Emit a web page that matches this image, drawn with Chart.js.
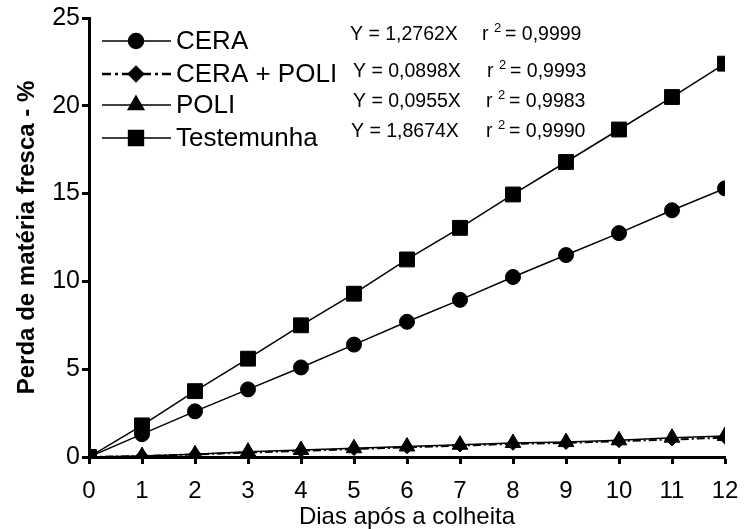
<!DOCTYPE html>
<html>
<head>
<meta charset="utf-8">
<script src="https://cdn.jsdelivr.net/npm/chart.js@4.4.0/dist/chart.umd.min.js"></script>
<style>
  html, body { margin: 0; padding: 0; background: #fff; }
  #wrap { width: 754px; height: 529px; position: relative; }
</style>
</head>
<body>
<div id="wrap"><canvas id="chart"></canvas></div>
<script>
// dias após a colheita
const dias = [0, 1, 2, 3, 4, 5, 6, 7, 8, 9, 10, 11, 12];

// perda de matéria fresca (%)
const cera = [0, 1.3, 2.6, 3.85, 5.1, 6.4, 7.7, 8.95, 10.25, 11.5, 12.75, 14.05, 15.3];
const ceraPoli = [0, 0.05, 0.15, 0.25, 0.35, 0.45, 0.55, 0.65, 0.75, 0.8, 0.9, 1.0, 1.1];
const poli = [0, 0.05, 0.15, 0.3, 0.4, 0.5, 0.6, 0.7, 0.8, 0.85, 0.95, 1.1, 1.2];
const testemunha = [0, 1.8, 3.75, 5.6, 7.5, 9.3, 11.25, 13.05, 14.95, 16.8, 18.65, 20.5, 22.4];

const nomes = ['CERA', 'CERA + POLI', 'POLI', 'Testemunha'];
const equacoes = ['Y = 1,2762X', 'Y = 0,0898X', 'Y = 0,0955X', 'Y = 1,8674X'];
const r2 = ['= 0,9999', '= 0,9993', '= 0,9983', '= 0,9990'];

const yTicks = [0, 5, 10, 15, 20, 25];

const FONT = '"Liberation Sans", Arial, sans-serif';

function pts(arr) {
    return dias.map((d, i) => ({ x: d, y: arr[i] }));
}

const base = {
    borderColor: '#000',
    backgroundColor: '#000',
    pointBackgroundColor: '#000',
    pointBorderColor: '#000',
    borderWidth: 1.5,
    pointBorderWidth: 1,
    tension: 0,
    fill: false
};

const datasets = [
    Object.assign({}, base, { label: nomes[0], data: pts(cera), pointStyle: 'circle', pointRadius: 7.5 }),
    Object.assign({}, base, { label: nomes[1], data: pts(ceraPoli), pointStyle: 'rectRot', pointRadius: 6.5, borderWidth: 2, borderDash: [8, 3, 2, 3] }),
    Object.assign({}, base, { label: nomes[2], data: pts(poli), pointStyle: 'triangle', pointRadius: 9 }),
    Object.assign({}, base, { label: nomes[3], data: pts(testemunha), pointStyle: 'rect', pointRadius: 10.5 })
];

// legenda desenhada à mão (linha + marcador + equação)
const legendaPlugin = {
    id: 'legenda',
    afterDraw(chart) {
        const ctx = chart.ctx;
        const rows = [41, 74, 105, 138];
        const eqX = [350, 353, 353, 351];
        const r2X = [482, 487, 486, 486];
        const eqRowY = [35, 72, 102, 132];
        ctx.save();
        chart.data.datasets.forEach((ds, i) => {
            const y = rows[i];
            ctx.strokeStyle = '#000';
            ctx.lineWidth = ds.borderDash ? 2.5 : 1.5;
            ctx.setLineDash(ds.borderDash ? [9, 4, 3, 4] : []);
            ctx.beginPath();
            ctx.moveTo(102, y);
            ctx.lineTo(171, y);
            ctx.stroke();
            ctx.setLineDash([]);
            ctx.fillStyle = '#000';
            Chart.helpers.drawPoint(ctx, {
                pointStyle: ds.pointStyle,
                radius: ds.pointStyle === 'rectRot' ? 7 : ds.pointRadius,
                borderWidth: 1
            }, 136, y);
            ctx.font = '26px ' + FONT;
            ctx.textAlign = 'left';
            ctx.textBaseline = 'middle';
            ctx.fillText(ds.label, 176, y + 1);

            const ey = eqRowY[i];
            ctx.font = '19.5px ' + FONT;
            ctx.fillText(equacoes[i], eqX[i], ey);
            ctx.fillText('r', r2X[i], ey);
            ctx.font = '13px ' + FONT;
            ctx.fillText('2', r2X[i] + 12, ey - 7);
            ctx.font = '19.5px ' + FONT;
            ctx.fillText(r2[i], r2X[i] + 23, ey);
        });
        ctx.restore();
    }
};

new Chart(document.getElementById('chart'), {
    type: 'line',
    data: { datasets: datasets },
    options: {
        responsive: true,
        maintainAspectRatio: false,
        animation: false,
        layout: { padding: { top: 18, right: 29, left: 0, bottom: 0 } },
        plugins: {
            legend: { display: false },
            tooltip: { enabled: false }
        },
        scales: {
            x: {
                type: 'linear',
                min: 0,
                max: 12,
                ticks: {
                    stepSize: 1,
                    color: '#000',
                    font: { family: FONT, size: 24 },
                    padding: 13
                },
                grid: { drawOnChartArea: false, tickLength: 7, tickWidth: 3, tickColor: '#000' },
                border: { display: true, color: '#000', width: 3 },
                title: {
                    display: true,
                    text: 'Dias após a colheita',
                    color: '#000',
                    font: { family: FONT, size: 24, lineHeight: 1 },
                    padding: { top: 0, bottom: 0 }
                },
                afterFit(scale) { scale.height = 72; }
            },
            y: {
                min: 0,
                max: 25,
                afterBuildTicks(scale) { scale.ticks = yTicks.map(v => ({ value: v })); },
                ticks: {
                    color: '#000',
                    font: { family: FONT, size: 25 },
                    padding: 2
                },
                grid: { drawOnChartArea: false, tickLength: 7, tickWidth: 3, tickColor: '#000' },
                border: { display: true, color: '#000', width: 3 },
                title: {
                    display: true,
                    text: 'Perda de matéria fresca - %',
                    color: '#000',
                    font: { family: FONT, size: 24, weight: 'bold' },
                    padding: { top: 13, bottom: 0 }
                },
                afterFit(scale) { scale.width = 89; }
            }
        }
    },
    plugins: [legendaPlugin]
});
</script>
</body>
</html>
